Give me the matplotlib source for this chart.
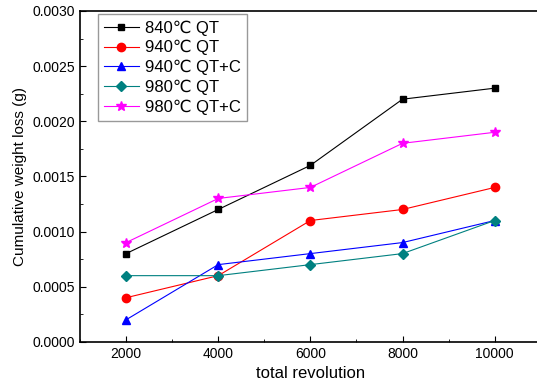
import matplotlib
matplotlib.use("Agg")
import matplotlib.pyplot as plt
from matplotlib.ticker import MultipleLocator

plt.rcParams['font.family'] = ['Liberation Sans', 'DejaVu Sans']

rev = [2000, 4000, 6000, 8000, 10000]
qt840 = [0.0008, 0.0012, 0.0016, 0.0022, 0.0023]
qt940 = [0.0004, 0.0006, 0.0011, 0.0012, 0.0014]
qtc940 = [0.0002, 0.0007, 0.0008, 0.0009, 0.0011]
qt980 = [0.0006, 0.0006, 0.0007, 0.0008, 0.0011]
qtc980 = [0.0009, 0.0013, 0.0014, 0.0018, 0.0019]
labels = ['840℃ QT', '940℃ QT', '940℃ QT+C', '980℃ QT', '980℃ QT+C']

fig = plt.figure(figsize=(5.37, 3.92), dpi=100)
# the right frame edge falls just outside the picture, as in the original
ax = fig.add_axes([0.149, 0.128, 0.858, 0.844])

ax.plot(rev, qt840, color='black', marker='s', ms=5, lw=0.8, label=labels[0])
ax.plot(rev, qt940, color='red', marker='o', ms=6, lw=0.8, label=labels[1])
ax.plot(rev, qtc940, color='blue', marker='^', ms=6, lw=0.8, label=labels[2])
ax.plot(rev, qt980, color='#008080', marker='D', ms=5, lw=0.8, label=labels[3])
ax.plot(rev, qtc980, color='magenta', marker='*', ms=7, lw=0.8, label=labels[4])

ax.set_xlim(1000, 11000)
ax.set_ylim(0, 0.003)
ax.xaxis.set_major_locator(MultipleLocator(2000))
ax.xaxis.set_minor_locator(MultipleLocator(1000))
ax.yaxis.set_major_locator(MultipleLocator(0.0005))
ax.yaxis.set_minor_locator(MultipleLocator(0.00025))
ax.yaxis.set_major_formatter(plt.FormatStrFormatter('%.4f'))
ax.tick_params(which='both', direction='in', labelsize=10)
ax.tick_params(which='major', length=4)
ax.tick_params(which='minor', length=2)
for s in ax.spines.values():
    s.set_linewidth(1.2)

ax.set_xlabel('total revolution', fontsize=12)
ax.set_ylabel('Cumulative weight loss (g)', fontsize=11)

leg = ax.legend(loc='upper left', bbox_to_anchor=(0.039, 0.99), borderaxespad=0,
                fontsize=12, fancybox=False, edgecolor='gray', handlelength=2.1,
                borderpad=0.35, labelspacing=0.27, handletextpad=0.4)
leg.get_frame().set_linewidth(1.0)

fig.savefig('out.png', dpi=100)
